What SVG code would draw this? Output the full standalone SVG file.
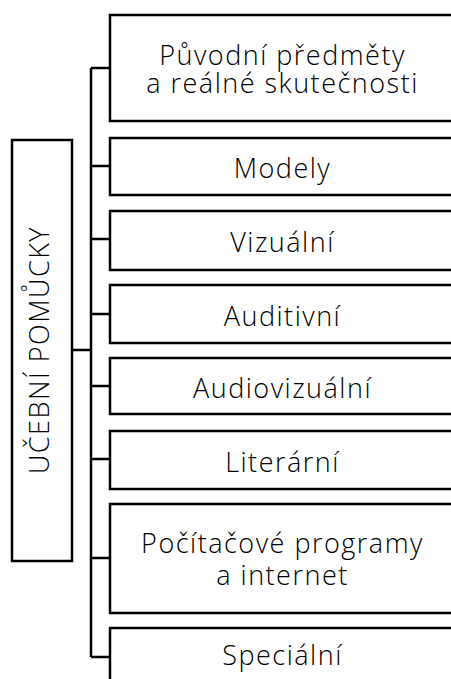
<svg xmlns="http://www.w3.org/2000/svg" width="451" height="679" viewBox="0 0 451 679">
<style>
.box{fill:#fff;stroke:#000;stroke-width:2.5}
.ln{fill:none;stroke:#000;stroke-width:2.5}
text{font-family:"Open Sans","Liberation Sans",sans-serif;font-weight:300;font-size:27px;letter-spacing:1.5px;fill:#000;text-anchor:middle}
</style>
<rect width="451" height="679" fill="#fff"/>
<g id="connectors">
<path class="ln" d="M72,350H91M91,68V657M91,68H110M91,166H110M91,239H110M91,314H110M91,386H110M91,459H110M91,558H110M91,657H110"/>
</g>
<g id="root">
<rect class="box" x="12" y="140" width="60" height="421"/>
<text transform="translate(49,350) rotate(-90)">UČEBNÍ POMŮCKY</text>
</g>
<g id="n1">
<rect class="box" x="110" y="15" width="350" height="106"/>
<text x="282.5" y="65">Původní předměty</text>
<text x="282.5" y="93">a reálné skutečnosti</text>
</g>
<g id="n2">
<rect class="box" x="110" y="138" width="350" height="57"/>
<text x="282.5" y="178">Modely</text>
</g>
<g id="n3">
<rect class="box" x="110" y="211" width="350" height="59"/>
<text x="282.5" y="252">Vizuální</text>
</g>
<g id="n4">
<rect class="box" x="110" y="285" width="350" height="58"/>
<text x="282.5" y="325.5">Auditivní</text>
</g>
<g id="n5">
<rect class="box" x="110" y="358" width="350" height="56"/>
<text x="282.5" y="397.5">Audiovizuální</text>
</g>
<g id="n6">
<rect class="box" x="110" y="431" width="350" height="58"/>
<text x="282.5" y="471.5">Literární</text>
</g>
<g id="n7">
<rect class="box" x="110" y="504" width="350" height="109"/>
<text x="282.5" y="553">Počítačové programy</text>
<text x="282.5" y="585">a internet</text>
</g>
<g id="n8">
<rect class="box" x="110" y="628" width="350" height="60"/>
<text x="282.5" y="665">Speciální</text>
</g>
</svg>
